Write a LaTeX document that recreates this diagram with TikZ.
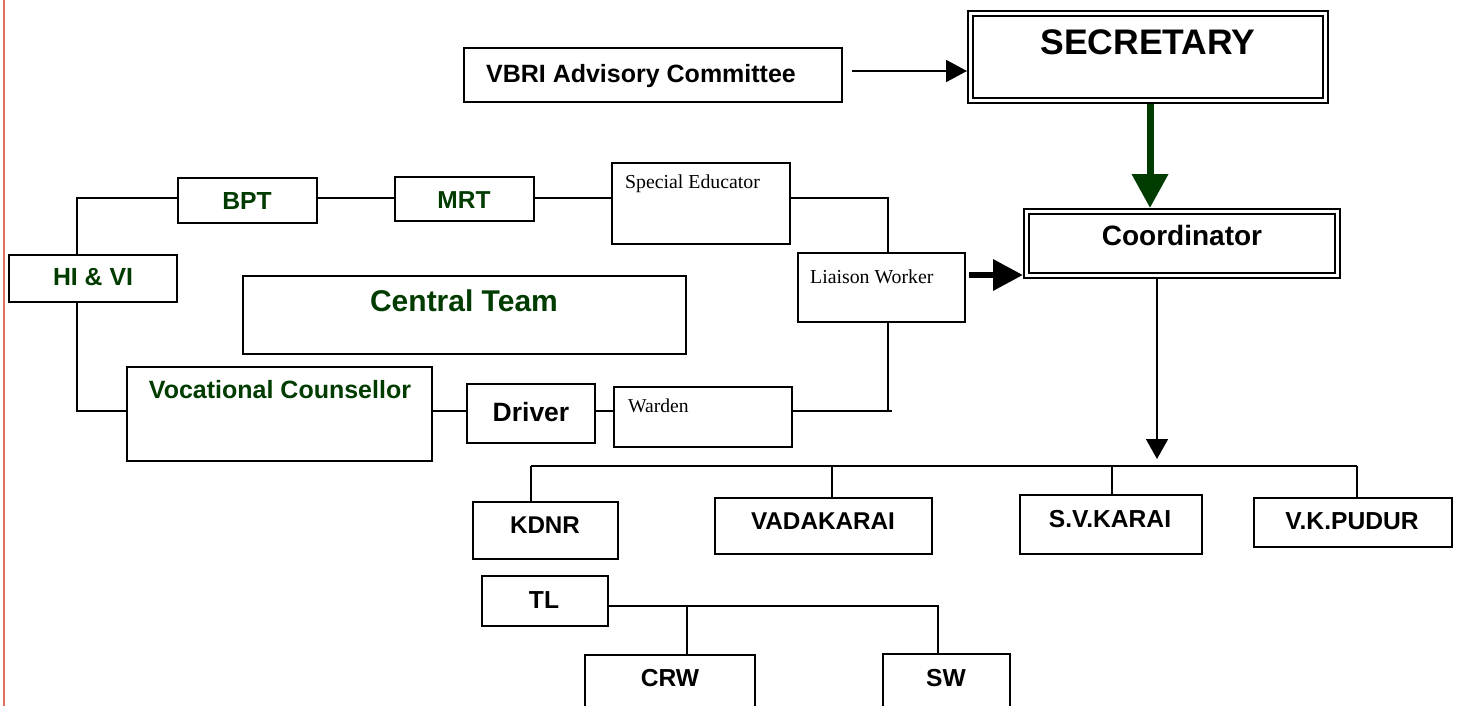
\documentclass[tikz,border=0pt]{standalone}
\usepackage{fontspec}
\setmainfont{Liberation Sans}
\newfontfamily\serifx{Liberation Serif}
\usetikzlibrary{arrows.meta}
\definecolor{dg}{RGB}{0,60,0}
\definecolor{redl}{RGB}{224,112,96}
\tikzset{
  box/.style={draw=black, rectangle, inner sep=0pt, outer sep=0pt, line width=1.3pt, minimum width=#1},
  bbox/.style={box=#1, line width=2.2pt},
  dbox/.style={draw=black, rectangle, inner sep=0pt, outer sep=3.4pt, line width=1.8pt, double=white, double distance=3.2pt, minimum width=#1},
  ht/.style={minimum height=#1},
  lbl/.style={anchor=base, inner sep=0pt, font=\bfseries\fontsize{#1}{#1}\selectfont},
  slbl/.style={anchor=base west, inner sep=0pt, font=\serifx\fontsize{#1}{#1}\selectfont},
  conn/.style={line width=1.5pt, draw=black},
}
\begin{document}
\begin{tikzpicture}[x=1pt, y=-1pt]
\clip (0,0) rectangle (1461,706);
\fill[white] (0,0) rectangle (1461,706);
\draw[redl, line width=2pt] (4,0) -- (4,706);

% boxes
\node[box=378, ht=54, line width=1.6pt] (vbri) at (653,75) {};
\node[dbox=355.2, ht=87.2] (sec) at (1148,57) {};
\node[dbox=311.2, ht=64.2] (coord) at (1182,243.5) {};
\node[bbox=139, ht=45, line width=2.6pt] (bpt) at (247.5,200.5) {};
\node[box=139, ht=44] (mrt) at (464.5,199) {};
\node[box=178, ht=81] (sped) at (701,203.5) {};
\node[box=167, ht=69] (liaison) at (881.5,287.5) {};
\node[box=443, ht=78, line width=1.5pt] (central) at (464.5,315) {};
\node[box=168, ht=47] (hivi) at (93,278.5) {};
\node[box=305, ht=94] (vc) at (279.5,414) {};
\node[bbox=128, ht=59] (driver) at (531,413.5) {};
\node[box=178, ht=60] (warden) at (703,417) {};
\node[bbox=145, ht=57] (kdnr) at (545.5,530.5) {};
\node[bbox=217, ht=56] (vada) at (823.5,526) {};
\node[bbox=182, ht=59] (svk) at (1111,524.5) {};
\node[bbox=198, ht=49] (vkp) at (1353,522.5) {};
\node[bbox=126, ht=50] (tl) at (545,601) {};
\node[bbox=170, ht=70] (crw) at (670,690) {};
\node[bbox=127, ht=72] (sw) at (946.5,690) {};

% texts
\node[lbl=25] (tvbri) at (641,83) {VBRI Advisory Committee};
\node[lbl=35.5] (tsec) at (1148,55) {SECRETARY};
\node[lbl=28] (tcoord) at (1182,245) {Coordinator};
\node[lbl=24.7, text=dg] (tbpt) at (247,209) {BPT};
\node[lbl=24.5, text=dg] (tmrt) at (464,208) {MRT};
\node[slbl=19.8] (tsped) at (625,188) {Special Educator};
\node[slbl=19.8] (tliaison) at (810,283) {Liaison Worker};
\node[slbl=19.6] (twarden) at (628,412) {Warden};
\node[lbl=24.8, text=dg] (thivi) at (93,285) {HI \& VI};
\node[lbl=30, text=dg] (tcentral) at (464,311) {Central Team};
\node[lbl=25, text=dg] (tvc) at (280,398) {Vocational Counsellor};
\node[lbl=26.5] (tdriver) at (531,421) {Driver};
\node[lbl=24.2] (tkdnr) at (545,533) {KDNR};
\node[lbl=24.3] (tvada) at (823,529) {VADAKARAI};
\node[lbl=24.6] (tsvk) at (1110,527) {S.V.KARAI};
\node[lbl=24.6] (tvkp) at (1352,529) {V.K.PUDUR};
\node[lbl=24.6] (ttl) at (544,608) {TL};
\node[lbl=24.6] (tcrw) at (670,686) {CRW};
\node[lbl=24.6] (tsw) at (946,686) {SW};

% top connectors
\coordinate (va) at (852,71);
\draw[line width=1.8pt, -{Triangle[length=21pt,width=22pt]}] (va) -- (va -| sec.west);
\draw[dg, line width=7pt, -{Triangle[length=34pt,width=35pt]}] ([xshift=2pt]sec.south) -- ([xshift=2pt]sec.south |- coord.north);
\coordinate (lw) at (969,275);
\draw[line width=6.5pt, -{Triangle[length=30pt,width=30pt]}] (lw) -- (lw -| coord.west);
\coordinate (cd) at (1157,459);
\draw[line width=1.6pt, -{Triangle[length=20pt,width=22pt]}] (cd |- coord.south) -- (cd);

% branch bus
\coordinate (busL) at (531,466);
\coordinate (busR) at (1357,466);
\draw[conn] (busL) -- (busR);
\draw[conn] (busL) -- (busL |- kdnr.north);
\draw[conn] (832,466) -- (832,0 |- vada.north);
\draw[conn] (1112,466) -- (1112,0 |- svk.north);
\draw[conn] (busR) -- (busR |- vkp.north);

% TL bus
\coordinate (tlR) at (938,606);
\draw[conn] (tl.east |- tlR) -- (tlR) -- (tlR |- sw.north);
\draw[conn] (687,606) -- (687,0 |- crw.north);

% left network
\coordinate (lt) at (77,198);
\coordinate (lb) at (77,411);
\draw[conn] (bpt.west |- lt) -- (lt) -- (lt |- hivi.north);
\draw[conn] (hivi.south -| lb) -- (lb) -- (lb -| vc.west);
\draw[conn] (bpt.east |- lt) -- (mrt.west |- lt);
\draw[conn] (mrt.east |- lt) -- (sped.west |- lt);
\coordinate (rt) at (888,198);
\coordinate (rb) at (888,411);
\draw[conn] (sped.east |- rt) -- (rt) -- (rt |- liaison.north);
\draw[conn] (rb |- liaison.south) -- (rb) -- (rb -| warden.east);
\draw[conn] (rb) -- (892,411);
\draw[conn] (vc.east |- lb) -- (driver.west |- lb);
\draw[conn] (driver.east |- lb) -- (warden.west |- lb);
\end{tikzpicture}
\end{document}
